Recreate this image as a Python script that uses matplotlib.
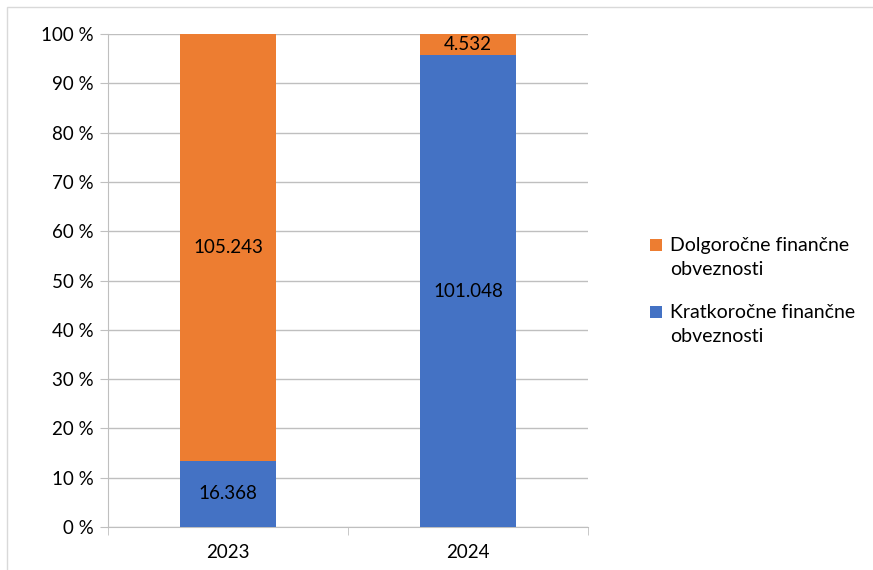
import numpy as np
import matplotlib.pyplot as plt
from matplotlib.patches import Rectangle

years = ['2023', '2024']
kratkorocne = [16.368, 101.048]
dolgorocne = [105.243, 4.532]
kratko_labels = ['16.368', '101.048']
dolgo_labels = ['105.243', '4.532']
series_names = ['Dolgoročne finančne\nobveznosti', 'Kratkoročne finančne\nobveznosti']

plt.rcParams['font.family'] = ['Lato', 'DejaVu Sans']

blue = '#4472C4'
orange = '#ED7D31'
grid_col = '#BFBFBF'

kr = np.array(kratkorocne)
dl = np.array(dolgorocne)
tot = kr + dl
kr_pct = kr / tot * 100
dl_pct = dl / tot * 100

fig = plt.figure(figsize=(8.73, 5.70), dpi=100)
fig.patches.append(Rectangle((7 / 873, -0.1), 1.2, (570 - 7) / 570 + 0.1,
                             transform=fig.transFigure, fill=False,
                             edgecolor='#D9D9D9', linewidth=1))
ax = fig.add_axes([108 / 873, 1 - 527 / 570, (588 - 108) / 873, (527 - 34) / 570])

x = np.arange(len(years))
w = 0.4
b1 = ax.bar(x, kr_pct, w, color=blue, zorder=3)
b2 = ax.bar(x, dl_pct, w, bottom=kr_pct, color=orange, zorder=3)

for i in range(len(years)):
    ax.text(x[i], kr_pct[i] / 2, kratko_labels[i], ha='center', va='center', fontsize=13.5, color='black', zorder=4)
    ax.text(x[i], kr_pct[i] + dl_pct[i] / 2, dolgo_labels[i], ha='center', va='center', fontsize=13.5, color='black', zorder=4)

ax.set_xlim(-0.5, 1.5)
ax.set_ylim(0, 100)
ax.set_yticks(np.arange(0, 101, 10))
ax.set_yticklabels([f'{v} %' for v in range(0, 101, 10)])
ax.set_xticks(x)
ax.set_xticklabels(years)
ax.set_xticks([-0.5, 0.5, 1.5], minor=True)
ax.tick_params(axis='x', which='major', length=0, pad=12, labelsize=13.5)
ax.tick_params(axis='x', which='minor', length=6, color=grid_col, direction='out')
ax.tick_params(axis='y', length=6, color=grid_col, labelsize=13.5, pad=4)
ax.grid(axis='y', color=grid_col, linewidth=1, zorder=0)
for s in ['top', 'right']:
    ax.spines[s].set_visible(False)
for s in ['left', 'bottom']:
    ax.spines[s].set_color(grid_col)

# legend drawn by hand to get the wide line spacing
leg_colors = [orange, blue]
leg_top = [245, 312]
for name, col, yp in zip(series_names, leg_colors, leg_top):
    fig.patches.append(Rectangle((650 / 873, 1 - (yp + 6) / 570), 12 / 873, 12 / 570,
                                 transform=fig.transFigure, facecolor=col, edgecolor='none'))
    for k, line in enumerate(name.split('\n')):
        fig.text(670 / 873, 1 - (yp + 25 * k) / 570, line, ha='left', va='center',
                 fontsize=14, color='black')

fig.savefig('out.png', dpi=100)
